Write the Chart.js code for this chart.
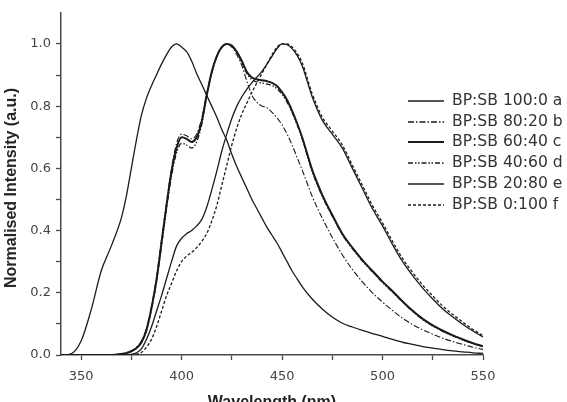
<!DOCTYPE html>
<html>
<head>
<meta charset="utf-8">
<script src="https://cdn.jsdelivr.net/npm/chart.js@4.4.1/dist/chart.umd.min.js"></script>
<style>
  html, body { margin: 0; padding: 0; background: #fff; }
  #wrap { position: relative; width: 567px; height: 402px; overflow: hidden; }
  #ytitle {
    position: absolute; left: 11px; top: 188px;
    transform: translate(-50%, -50%) rotate(-90deg);
    font: bold 16px "Liberation Sans", Arial, sans-serif; color: #222; white-space: nowrap;
  }
  .lg-row { position: absolute; left: 408px; height: 20px; transform: translateY(-50%); }
  .lg-row svg { position: absolute; left: 0; top: 7px; }
  .lg-row span {
    position: absolute; left: 44px; top: 0; line-height: 20px; white-space: nowrap;
    font: 15.6px "DejaVu Sans", sans-serif; color: #333;
  }
</style>
</head>
<body>
<div id="wrap">
  <canvas id="chart" width="567" height="402"></canvas>
  <div id="ytitle">Normalised Intensity (a.u.)</div>
  <div id="legend"></div>
</div>
<script>
// wavelength grid (nm)
const wavelengths = [340, 345, 350, 355, 360, 365, 370,
  372.5, 375, 377.5, 380, 382.5, 385, 387.5, 390, 392.5, 395, 397.5, 400, 402.5, 405, 407.5,
  410, 412.5, 415, 417.5, 420, 422.5, 425, 427.5, 430, 432.5, 435, 437.5, 440, 442.5, 445,
  447.5, 450, 452.5, 455, 457.5, 460,
  465, 470, 475, 480, 485, 490, 495, 500, 505, 510, 515, 520, 525, 530, 535, 540, 545, 550];

const bpsb100_0 = [0, 0.004, 0.045, 0.145, 0.27, 0.35, 0.44,
  0.51, 0.6, 0.69, 0.77, 0.825, 0.865, 0.9, 0.935, 0.965, 0.99, 1.0, 0.99, 0.975, 0.945, 0.905,
  0.87, 0.835, 0.8, 0.765, 0.725, 0.69, 0.645, 0.605, 0.57, 0.535, 0.5, 0.47, 0.44, 0.41, 0.385,
  0.36, 0.33, 0.3, 0.27, 0.245, 0.22,
  0.18, 0.148, 0.122, 0.102, 0.09, 0.079, 0.069, 0.06, 0.05, 0.041, 0.034, 0.027, 0.022, 0.017, 0.013, 0.01, 0.007, 0.005];

const bpsb80_20 = [0, 0, 0, 0, 0, 0, 0.004,
  0.008, 0.014, 0.025, 0.045, 0.085, 0.155, 0.25, 0.37, 0.49, 0.6, 0.68, 0.71, 0.705, 0.695, 0.71,
  0.76, 0.84, 0.91, 0.96, 0.99, 1.0, 0.99, 0.965, 0.93, 0.88, 0.835, 0.812, 0.8, 0.795, 0.78,
  0.762, 0.74, 0.71, 0.675, 0.635, 0.595,
  0.51, 0.44, 0.378, 0.322, 0.275, 0.235, 0.2, 0.17, 0.143, 0.118, 0.098, 0.081, 0.067, 0.054, 0.043, 0.034, 0.025, 0.018];

const bpsb60_40 = [0, 0, 0, 0, 0, 0, 0.003,
  0.006, 0.012, 0.022, 0.04, 0.08, 0.15, 0.24, 0.36, 0.48, 0.59, 0.665, 0.7, 0.695, 0.685, 0.7,
  0.75, 0.835, 0.91, 0.96, 0.99, 1.0, 0.995, 0.975, 0.945, 0.91, 0.892, 0.886, 0.883, 0.88, 0.875,
  0.865, 0.845, 0.82, 0.785, 0.745, 0.7,
  0.595, 0.515, 0.45, 0.39, 0.345, 0.305, 0.27, 0.236, 0.205, 0.172, 0.142, 0.116, 0.095, 0.078, 0.063, 0.05, 0.038, 0.028];

const bpsb40_60 = [0, 0, 0, 0, 0, 0, 0.003,
  0.006, 0.012, 0.022, 0.04, 0.078, 0.145, 0.235, 0.35, 0.47, 0.575, 0.65, 0.68, 0.675, 0.665, 0.685,
  0.74, 0.83, 0.905, 0.958, 0.99, 1.0, 0.993, 0.972, 0.94, 0.905, 0.885, 0.878, 0.874, 0.871, 0.866,
  0.856, 0.838, 0.813, 0.78, 0.74, 0.695,
  0.59, 0.51, 0.446, 0.387, 0.342, 0.302, 0.267, 0.233, 0.202, 0.17, 0.14, 0.114, 0.093, 0.076, 0.061, 0.048, 0.037, 0.027];

const bpsb20_80 = [0, 0, 0, 0, 0, 0, 0,
  0, 0.002, 0.007, 0.02, 0.05, 0.09, 0.14, 0.19, 0.245, 0.3, 0.35, 0.375, 0.39, 0.4, 0.415,
  0.435, 0.475, 0.53, 0.59, 0.655, 0.71, 0.76, 0.8, 0.83, 0.855, 0.875, 0.893, 0.912, 0.935, 0.96,
  0.985, 1.0, 0.998, 0.985, 0.963, 0.93,
  0.83, 0.755, 0.71, 0.665, 0.6, 0.535, 0.47, 0.415, 0.355, 0.3, 0.255, 0.215, 0.18, 0.148, 0.122, 0.098, 0.077, 0.058];

const bpsb0_100 = [0, 0, 0, 0, 0, 0, 0,
  0, 0, 0.002, 0.008, 0.025, 0.05, 0.09, 0.14, 0.19, 0.23, 0.27, 0.3, 0.318, 0.33, 0.345,
  0.365, 0.39, 0.43, 0.48, 0.545, 0.61, 0.675, 0.73, 0.775, 0.81, 0.845, 0.875, 0.905, 0.935, 0.965,
  0.99, 1.0, 1.0, 0.99, 0.97, 0.94,
  0.84, 0.765, 0.72, 0.675, 0.61, 0.545, 0.48, 0.425, 0.365, 0.31, 0.265, 0.225, 0.19, 0.157, 0.13, 0.105, 0.082, 0.062];

const seriesLabels = ['BP:SB 100:0 a', 'BP:SB 80:20 b', 'BP:SB 60:40 c', 'BP:SB 40:60 d', 'BP:SB 20:80 e', 'BP:SB 0:100 f'];
const seriesValues = [bpsb100_0, bpsb80_20, bpsb60_40, bpsb40_60, bpsb20_80, bpsb0_100];

const xTicks = [350, 375, 400, 425, 450, 475, 500, 525, 550];
const xTickLabels = ['350', '', '400', '', '450', '', '500', '', '550'];
const yTicks = [0, 0.1, 0.2, 0.3, 0.4, 0.5, 0.6, 0.7, 0.8, 0.9, 1.0];
const yTickLabels = ['0.0', '', '0.2', '', '0.4', '', '0.6', '', '0.8', '', '1.0'];

// line styles
const lineWidths = [1.3, 1.1, 2, 1.3, 1.3, 1.3];
const lineDashes = [[], [6, 2, 1.5, 2], [], [5, 2, 1.5, 1.5, 1.5, 2], [], [3, 2]];
const ink = '#1b1b1b';
const axisColor = '#4a4a4a';

Chart.defaults.font.family = '"DejaVu Sans", sans-serif';

const datasets = seriesValues.map((vals, i) => ({
  label: seriesLabels[i],
  data: vals.map((v, j) => ({ x: wavelengths[j], y: v })),
  borderColor: ink,
  borderWidth: lineWidths[i],
  borderDash: lineDashes[i],
  pointRadius: 0,
  fill: false,
  cubicInterpolationMode: 'monotone',
}));

new Chart(document.getElementById('chart').getContext('2d'), {
  type: 'line',
  data: { datasets },
  options: {
    responsive: false,
    devicePixelRatio: 1,
    animation: false,
    layout: { padding: { left: 0, right: 84, top: 1, bottom: 0 } },
    plugins: { legend: { display: false }, tooltip: { enabled: false } },
    scales: {
      x: {
        type: 'linear',
        min: 340,
        max: 550,
        afterBuildTicks: (s) => { s.ticks = xTicks.map((v) => ({ value: v })); },
        afterFit: (s) => { s.height = 47; },
        border: { display: true, color: axisColor, width: 1.5 },
        grid: { drawOnChartArea: false, drawTicks: true, tickLength: 5, color: axisColor, tickWidth: 1.3 },
        ticks: {
          padding: 9,
          color: '#444',
          font: { size: 13 },
          maxRotation: 0,
          autoSkip: false,
          callback: (v, i) => xTickLabels[i],
        },
        title: {
          display: true,
          text: 'Wavelength (nm)',
          color: '#222',
          font: { family: '"Liberation Sans", Arial, sans-serif', size: 16, weight: 'bold', lineHeight: 1 },
          padding: { top: 0, bottom: -9 },
        },
      },
      y: {
        min: 0,
        max: 1.1,
        afterBuildTicks: (s) => { s.ticks = yTicks.map((v) => ({ value: v })); },
        afterFit: (s) => { s.width = 61; },
        border: { display: true, color: axisColor, width: 1.5 },
        grid: { drawOnChartArea: false, drawTicks: true, tickLength: 5, color: axisColor, tickWidth: 1.3 },
        ticks: {
          padding: 5,
          color: '#444',
          font: { size: 13 },
          autoSkip: false,
          callback: (v, i) => yTickLabels[i],
        },
      },
    },
  },
});

// legend (top right)
const legend = document.getElementById('legend');
seriesLabels.forEach((label, i) => {
  const row = document.createElement('div');
  row.className = 'lg-row';
  row.style.top = (101 + i * 20.7) + 'px';
  const dash = lineDashes[i].length ? lineDashes[i].join(',') : 'none';
  row.innerHTML =
    '<svg width="36" height="6"><line x1="0" y1="3" x2="36" y2="3" stroke="' + ink +
    '" stroke-width="' + Math.max(lineWidths[i], 1.6) + '" stroke-dasharray="' + dash + '"/></svg>' +
    '<span>' + label + '</span>';
  legend.appendChild(row);
});
</script>
</body>
</html>
